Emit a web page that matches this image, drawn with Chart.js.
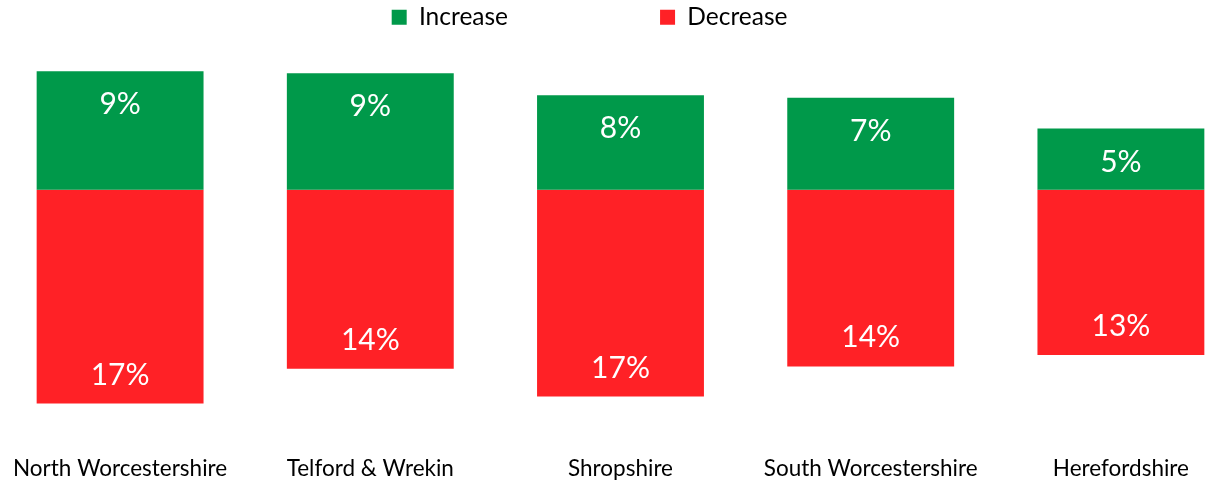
<!DOCTYPE html>
<html>
<head>
<meta charset="utf-8">
<script src="https://cdn.jsdelivr.net/npm/chart.js@4"></script>
<style>
	html, body { margin: 0; padding: 0; background: #fff; overflow: hidden; }
	#wrap { position: absolute; left: -5px; top: 0; width: 1251px; height: 484px; }
</style>
</head>
<body>
<div id="wrap"><canvas id="changeChart"></canvas></div>
<script>
const areas = ['North Worcestershire', 'Telford & Wrekin', 'Shropshire', 'South Worcestershire', 'Herefordshire'];
const increase = [9.48, 9.32, 7.56, 7.35, 4.90];
const decrease = [-17.07, -14.30, -16.51, -14.11, -13.20];
const yMin = -21.04;
const yMax = 12.01;

const GREEN = '#00994A';
const RED = '#FF2126';
const FONT = 'Lato';

// white % labels inside the end of each bar
const barLabels = {
	id: 'barLabels',
	afterDatasetsDraw(chart){
		const ctx = chart.ctx;
		ctx.save();
		ctx.fillStyle = '#fff';
		ctx.font = '30px ' + FONT;
		ctx.textAlign = 'center';
		ctx.textBaseline = 'alphabetic';
		chart.data.datasets.forEach((ds, i) => {
			chart.getDatasetMeta(i).data.forEach((bar, j) => {
				const v = ds.data[j];
				const y = v >= 0 ? bar.y + 43 : bar.y - 19;
				ctx.fillText(Math.round(Math.abs(v)) + '%', bar.x, y);
			});
		});
		ctx.restore();
	}
};

Chart.defaults.color = '#000';
Chart.defaults.font.family = FONT;

// trailing spaces widen the legend items so they sit apart like the original
new Chart(document.getElementById('changeChart'), {
	type: 'bar',
	data: {
		labels: areas,
		datasets: [
			{ label: 'Increase' + '\u2003'.repeat(8), data: increase, backgroundColor: GREEN, borderWidth: 0 },
			{ label: 'Decrease' + '\u2003\u2003    ', data: decrease, backgroundColor: RED, borderWidth: 0 }
		]
	},
	options: {
		responsive: true,
		maintainAspectRatio: false,
		animation: false,
		layout: { padding: 0 },
		categoryPercentage: 1,
		barPercentage: 0.667,
		plugins: {
			tooltip: { enabled: false },
			legend: {
				position: 'top',
				labels: { boxWidth: 15, boxHeight: 15, padding: 5, font: { size: 24.5 }, color: '#000' }
			}
		},
		scales: {
			x: {
				stacked: true,
				grid: { display: false, drawTicks: false },
				border: { display: false },
				ticks: { font: { size: 22.5, lineHeight: 1.1 }, color: '#000', padding: 3, maxRotation: 0, autoSkip: false }
			},
			y: {
				stacked: true,
				display: false,
				min: yMin,
				max: yMax
			}
		}
	},
	plugins: [barLabels]
});
</script>
</body>
</html>
